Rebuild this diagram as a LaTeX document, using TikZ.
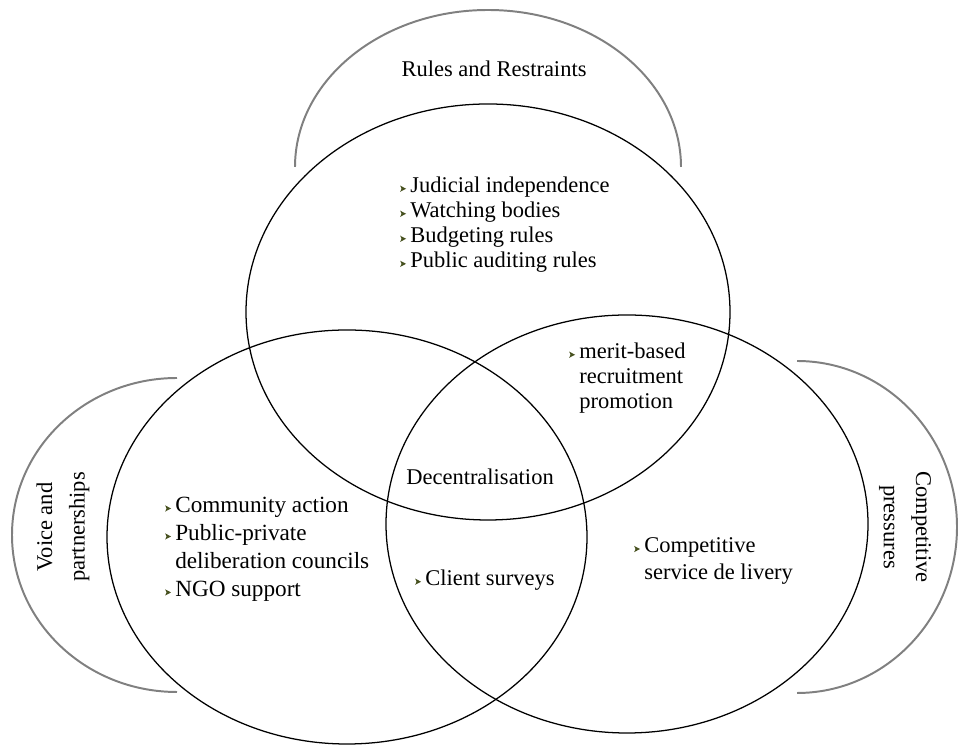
\documentclass[tikz,border=0pt]{standalone}
\usepackage{fontspec}
\setmainfont{Liberation Serif}
\definecolor{bulletgreen}{RGB}{70,80,30}
\newcommand{\bul}{\llap{\tikz[baseline=-2.6pt]\fill[bulletgreen] (0,2.2pt)--(4.2pt,0)--(0,-2.2pt)--(1pt,0)--cycle;\hspace{3pt}}}
\begin{document}
\begin{tikzpicture}[x=0.025cm,y=0.025cm]
\tikzset{ring style/.style={draw=black, line width=0.9pt},
         arc style/.style={draw=black!50, line width=1.4pt},
         text style/.style={inner sep=0pt, align=left, font=\fontsize{16}{17.8}\selectfont}}

\useasboundingbox (0,0) rectangle (960,747);

% grey outer arcs
\draw[arc style] (295,580) arc[start angle=180, end angle=0, x radius=193, y radius=157];
\draw[arc style] (177,369) arc[start angle=90, end angle=270, x radius=165, y radius=157];
\draw[arc style] (797,386) arc[start angle=90, end angle=-90, x radius=160, y radius=166];

% the three circles
\draw[ring style] (488,435) ellipse[x radius=242, y radius=208];
\draw[ring style] (347,210) ellipse[x radius=240, y radius=207];
\draw[ring style] (627,223) ellipse[x radius=241, y radius=209];

\node[text style] at (494,678)   (rules)   {Rules and Restraints};
\node[text style, anchor=north west] at (410,570.5) (rulelist)
      {\bul Judicial independence\\ \bul Watching bodies\\ \bul Budgeting rules\\ \bul Public auditing rules};

\node[text style, anchor=north west] at (579,404.5) (merit)
      {\bul merit-based\\ recruitment\\ promotion};

\node[text style] at (480,270)   (decentral)   {Decentralisation};
\node[text style, anchor=west] at (425,167)   (client)   {\bul Client surveys};

\node[text style, anchor=north west, font=\fontsize{16.5}{19.9}\selectfont] at (175,250.5) (voicelist)
      {\bul Community action\\ \bul Public-private\\ deliberation councils\\ \bul NGO support};

\node[text style, anchor=north west, font=\fontsize{16}{19.2}\selectfont] at (644,209.5) (complist)
      {\bul Competitive\\ service de livery};

\node[text style, align=center, rotate=90, font=\fontsize{16}{23}\selectfont] at (63,220)   (voice)   {Voice and\\partnerships};
\node[text style, align=center, rotate=-90, font=\fontsize{16}{23}\selectfont] at (905,220)   (comp)   {Competitive\\pressures};

\end{tikzpicture}
\end{document}
